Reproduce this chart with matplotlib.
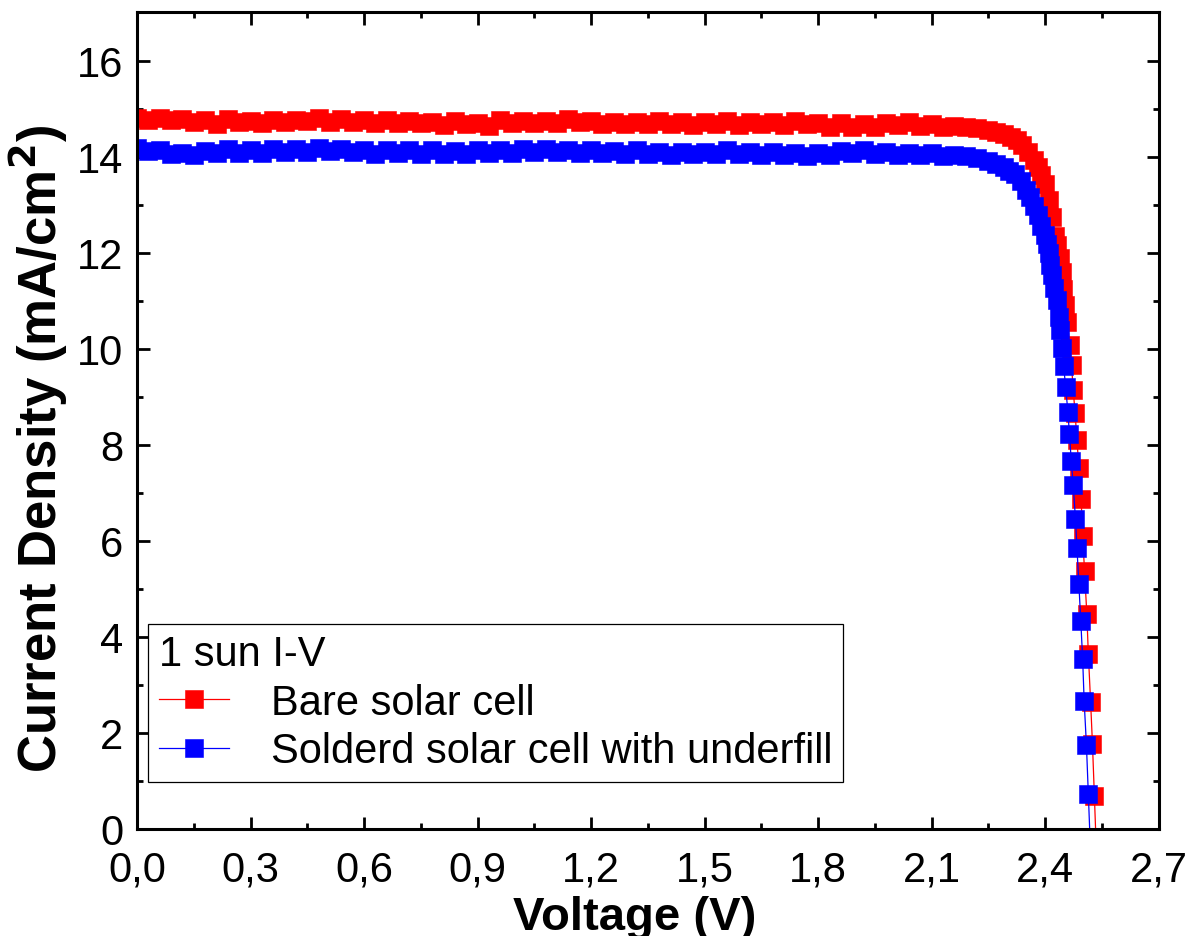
import matplotlib
matplotlib.use("Agg")
import matplotlib.pyplot as plt
from matplotlib.ticker import MultipleLocator, FuncFormatter
from matplotlib.lines import Line2D

plt.rcParams['font.family'] = ['Liberation Sans', 'DejaVu Sans']

# ---- data ----
v_flat = [0.00, 0.03, 0.06, 0.09, 0.12, 0.15, 0.18, 0.21, 0.24, 0.27,
          0.30, 0.33, 0.36, 0.39, 0.42, 0.45, 0.48, 0.51, 0.54, 0.57,
          0.60, 0.63, 0.66, 0.69, 0.72, 0.75, 0.78, 0.81, 0.84, 0.87,
          0.90, 0.93, 0.96, 0.99, 1.02, 1.05, 1.08, 1.11, 1.14, 1.17,
          1.20, 1.23, 1.26, 1.29, 1.32, 1.35, 1.38, 1.41, 1.44, 1.47,
          1.50, 1.53, 1.56, 1.59, 1.62, 1.65, 1.68, 1.71, 1.74, 1.77,
          1.80, 1.83, 1.86, 1.89, 1.92, 1.95, 1.98, 2.01, 2.04, 2.07,
          2.10, 2.13]

j_bare_flat = [14.81, 14.76, 14.80, 14.77, 14.79, 14.72, 14.76, 14.68, 14.78, 14.71,
               14.75, 14.69, 14.76, 14.72, 14.77, 14.74, 14.80, 14.73, 14.78, 14.71,
               14.77, 14.70, 14.76, 14.69, 14.74, 14.69, 14.73, 14.66, 14.74, 14.67,
               14.69, 14.64, 14.76, 14.69, 14.74, 14.70, 14.75, 14.70, 14.79, 14.71,
               14.74, 14.67, 14.73, 14.67, 14.73, 14.67, 14.75, 14.68, 14.72, 14.66,
               14.72, 14.67, 14.74, 14.66, 14.72, 14.67, 14.71, 14.66, 14.75, 14.68,
               14.69, 14.62, 14.69, 14.62, 14.67, 14.61, 14.70, 14.65, 14.71, 14.63,
               14.68, 14.62]

j_under_flat = [14.18, 14.12, 14.13, 14.05, 14.08, 14.03, 14.12, 14.07, 14.15, 14.08,
                14.13, 14.08, 14.16, 14.10, 14.16, 14.09, 14.17, 14.11, 14.16, 14.10,
                14.13, 14.06, 14.13, 14.08, 14.13, 14.06, 14.13, 14.05, 14.12, 14.05,
                14.13, 14.08, 14.13, 14.08, 14.15, 14.10, 14.15, 14.10, 14.14, 14.07,
                14.14, 14.07, 14.12, 14.05, 14.13, 14.06, 14.10, 14.04, 14.10, 14.05,
                14.10, 14.06, 14.13, 14.05, 14.10, 14.03, 14.10, 14.03, 14.08, 14.01,
                14.08, 14.04, 14.12, 14.08, 14.13, 14.05, 14.10, 14.03, 14.08, 14.03,
                14.07, 14.01]

v_bare_knee = [2.16, 2.19, 2.22, 2.25, 2.27, 2.29, 2.31, 2.325, 2.34, 2.355,
               2.37, 2.38, 2.39, 2.40, 2.41, 2.418, 2.4255, 2.4318, 2.4387, 2.4432,
               2.4477, 2.4519, 2.4583, 2.4651, 2.4696, 2.474, 2.479, 2.484, 2.489, 2.495,
               2.499, 2.504, 2.510, 2.514, 2.520, 2.525, 2.530, 2.535]
j_bare_knee = [14.64, 14.62, 14.60, 14.56, 14.52, 14.47, 14.41, 14.34, 14.24, 14.10,
               13.92, 13.78, 13.62, 13.42, 13.10, 12.75, 12.35, 12.16, 11.88, 11.60,
               11.25, 10.91, 10.56, 10.07, 9.66, 9.15, 8.66, 8.10, 7.51, 6.87,
               6.10, 5.37, 4.48, 3.65, 2.65, 1.76, 0.69, -0.40]

v_under_knee = [2.16, 2.19, 2.22, 2.25, 2.27, 2.29, 2.305, 2.32, 2.335, 2.35,
                2.36, 2.37, 2.38, 2.39, 2.399, 2.405, 2.410, 2.414, 2.418, 2.424,
                2.430, 2.436, 2.440, 2.445, 2.449, 2.454, 2.460, 2.464, 2.469, 2.474,
                2.480, 2.484, 2.489, 2.494, 2.499, 2.503, 2.509, 2.514, 2.519]
j_under_knee = [14.04, 14.02, 13.98, 13.91, 13.85, 13.78, 13.71, 13.63, 13.50, 13.30,
                13.15, 12.98, 12.78, 12.56, 12.37, 12.18, 11.99, 11.74, 11.54, 11.26,
                11.01, 10.67, 10.39, 10.01, 9.63, 9.20, 8.69, 8.23, 7.66, 7.17,
                6.46, 5.85, 5.10, 4.34, 3.54, 2.66, 1.75, 0.73, -0.30]

labels = ["Bare solar cell", "Solderd solar cell with underfill"]
colors = ["#FF0000", "#0000FF"]
legend_title = "1 sun I-V"
x_label = "Voltage (V)"
y_label = "Current Density (mA/cm$\\mathbf{^2}$)"

# ---- figure ----
fig = plt.figure(figsize=(11.98, 9.37), dpi=100)
ax = fig.add_axes([0.1144, 0.1142, 0.8528, 0.8714])

series = [
    (v_flat + v_bare_knee, j_bare_flat + j_bare_knee),
    (v_flat + v_under_knee, j_under_flat + j_under_knee),
]
for (vx, jy), lab, col in zip(series, labels, colors):
    ax.plot(vx, jy, color=col, lw=0.9, marker='s', ms=12.6,
            mfc=col, mec=col, mew=0.4, label=lab)

ax.set_xlim(0, 2.7)
ax.set_ylim(0, 17)
ax.xaxis.set_major_locator(MultipleLocator(0.3))
ax.xaxis.set_minor_locator(MultipleLocator(0.15))
ax.yaxis.set_major_locator(MultipleLocator(2))
ax.yaxis.set_minor_locator(MultipleLocator(1))
ax.xaxis.set_major_formatter(FuncFormatter(lambda v, p: f"{v:.1f}".replace('.', ',')))
ax.yaxis.set_major_formatter(FuncFormatter(lambda v, p: f"{v:.0f}"))

for s in ax.spines.values():
    s.set_linewidth(2.2)
ax.tick_params(which='both', direction='in', top=True, right=True, width=2.0)
ax.tick_params(which='major', length=9, labelsize=30)
ax.tick_params(which='minor', length=4.5)
ax.tick_params(axis='y', which='major', pad=10)
ax.tick_params(axis='x', which='major', pad=15)
ax.tick_params(labeltop=False, labelright=False)

ax.set_xlabel(x_label, fontsize=34, fontweight='bold', labelpad=4)
ax.xaxis.label.set_x(0.487)
ax.set_ylabel(y_label, fontsize=38, fontweight='bold')
ax.yaxis.set_label_coords(-0.066, 0.467)

handles = [Line2D([], [], color=c, lw=0.9, marker='s', ms=12.6, mfc=c, mec=c, mew=0.4)
           for c in colors]
leg = ax.legend(handles, labels, title=legend_title, loc='upper left',
                bbox_to_anchor=(0.0108, 0.251), borderaxespad=0,
                fontsize=30, title_fontsize=30, frameon=True, fancybox=False,
                edgecolor='black', framealpha=1, handlelength=1.7,
                handletextpad=1.0, labelspacing=0.2, borderpad=0.25,
                alignment='left')
leg.get_frame().set_linewidth(0.9)

fig.savefig("out.png", dpi=100)
